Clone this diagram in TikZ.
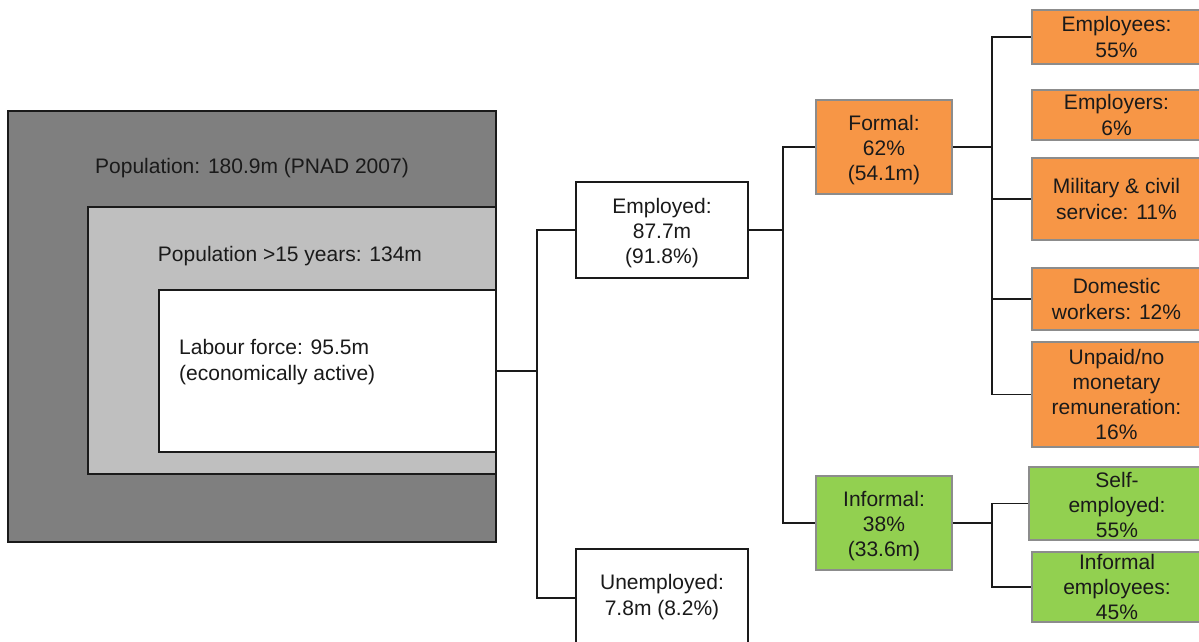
\documentclass[tikz,border=0pt]{standalone}
\usepackage{fontspec}
\setmainfont{Liberation Sans}
\definecolor{darkgrey}{HTML}{7F7F7F}
\definecolor{midgrey}{HTML}{BFBFBF}
\definecolor{formalorange}{HTML}{F79646}
\definecolor{informalgreen}{HTML}{92D050}
\definecolor{boxedge}{HTML}{8C8C8C}
\definecolor{ink}{HTML}{1A1A1A}
\begin{document}
\begin{tikzpicture}[x=1pt,y=-1pt,
  every node/.style={font=\fontsize{21}{25.2}\selectfont, text=ink, inner sep=0pt, align=center},
  frame/.style={draw=ink, line width=1.5pt, rectangle},
  whitebox/.style={draw=ink, line width=1.5pt, fill=white, rectangle},
  orangebox/.style={draw=boxedge, line width=1.6pt, fill=formalorange, rectangle},
  greenbox/.style={draw=boxedge, line width=1.6pt, fill=informalgreen, rectangle},
  link/.style={draw=ink, line width=1.5pt}]
\useasboundingbox (0,0) rectangle (1199,641);
\clip (0,0) rectangle (1199,641);

% nested population boxes
\node[frame, fill=darkgrey, minimum width=488pt, minimum height=431pt] (pop) at (252,326.5) {};
\node[frame, fill=midgrey, minimum width=408pt, minimum height=267pt] (pop15) at (292,340.5) {};
\node[whitebox, minimum width=337pt, minimum height=162pt] (lab) at (327.5,371) {};
\node (poplabel) at (252,168) {Population: 180.9m (PNAD 2007)};
\node (pop15label) at (290,256) {Population >15 years: 134m};
\node[anchor=west, align=left] (lablabel) at (179,362) {Labour force: 95.5m\\(economically active)};

% employment status
\node[whitebox, minimum width=172pt, minimum height=96pt] (emp) at (662,230) {};
\node (emplabel) at (662,233) {Employed:\\87.7m\\(91.8\%)};
\node[whitebox, minimum width=172pt, minimum height=98pt] (unemp) at (662,598) {};
\node (unemplabel) at (662,597) {Unemployed:\\7.8m (8.2\%)};

% formal / informal
\node[orangebox, minimum width=136pt, minimum height=94pt] (formal) at (884,147) {};
\node (formallabel) at (884,150) {Formal:\\62\%\\(54.1m)};
\node[greenbox, minimum width=136pt, minimum height=94pt] (informal) at (884,523) {};
\node (informallabel) at (884,526) {Informal:\\38\%\\(33.6m)};

% formal categories
\node[orangebox, minimum width=169pt, minimum height=54pt] (employees) at (1116.5,37) {Employees:\\55\%};
\node[orangebox, minimum width=169pt, minimum height=50pt] (employers) at (1116.5,115) {Employers:\\6\%};
\node[orangebox, minimum width=169pt, minimum height=82pt] (military) at (1116.5,199) {Military \& civil\\service: 11\%};
\node[orangebox, minimum width=169pt, minimum height=62pt] (domestic) at (1116.5,299) {Domestic\\workers: 12\%};
\node[orangebox, minimum width=169pt, minimum height=105pt] (unpaid) at (1116.5,394.5) {Unpaid/no\\monetary\\remuneration:\\16\%};

% informal categories
\node[greenbox, minimum width=172pt, minimum height=73pt] (selfemp) at (1115,503.5) {};
\node (selfemplabel) at (1117,505) {\fontsize{21}{23}\selectfont Self-\\employed:\\55\%};
\node[greenbox, minimum width=169pt, minimum height=70pt] (infemp) at (1116.5,587) {};
\node (infemplabel) at (1117,587) {\fontsize{21}{24}\selectfont Informal\\employees:\\45\%};

% connectors
\draw[link] (lab.east) -- ++(40,0) coordinate (j1);
\draw[link] (emp.west) -- (j1 |- emp.west) -- (j1 |- unemp.west) -- (unemp.west);
\draw[link] (emp.east) -- ++(34,0) coordinate (j2);
\draw[link] (formal.west) -- (j2 |- formal.west) -- (j2 |- informal.west) -- (informal.west);
\draw[link] (formal.east) -- ++(39,0) coordinate (j3);
\draw[link] (employees.west) -- (j3 |- employees.west) -- (j3 |- unpaid.west) -- (unpaid.west);
\draw[link] (military.west) -- (j3 |- military.west);
\draw[link] (domestic.west) -- (j3 |- domestic.west);
\draw[link] (informal.east) -- ++(39,0) coordinate (j4);
\draw[link] (selfemp.west) -- (j4 |- selfemp.west) -- (j4 |- infemp.west) -- (infemp.west);
\end{tikzpicture}
\end{document}
